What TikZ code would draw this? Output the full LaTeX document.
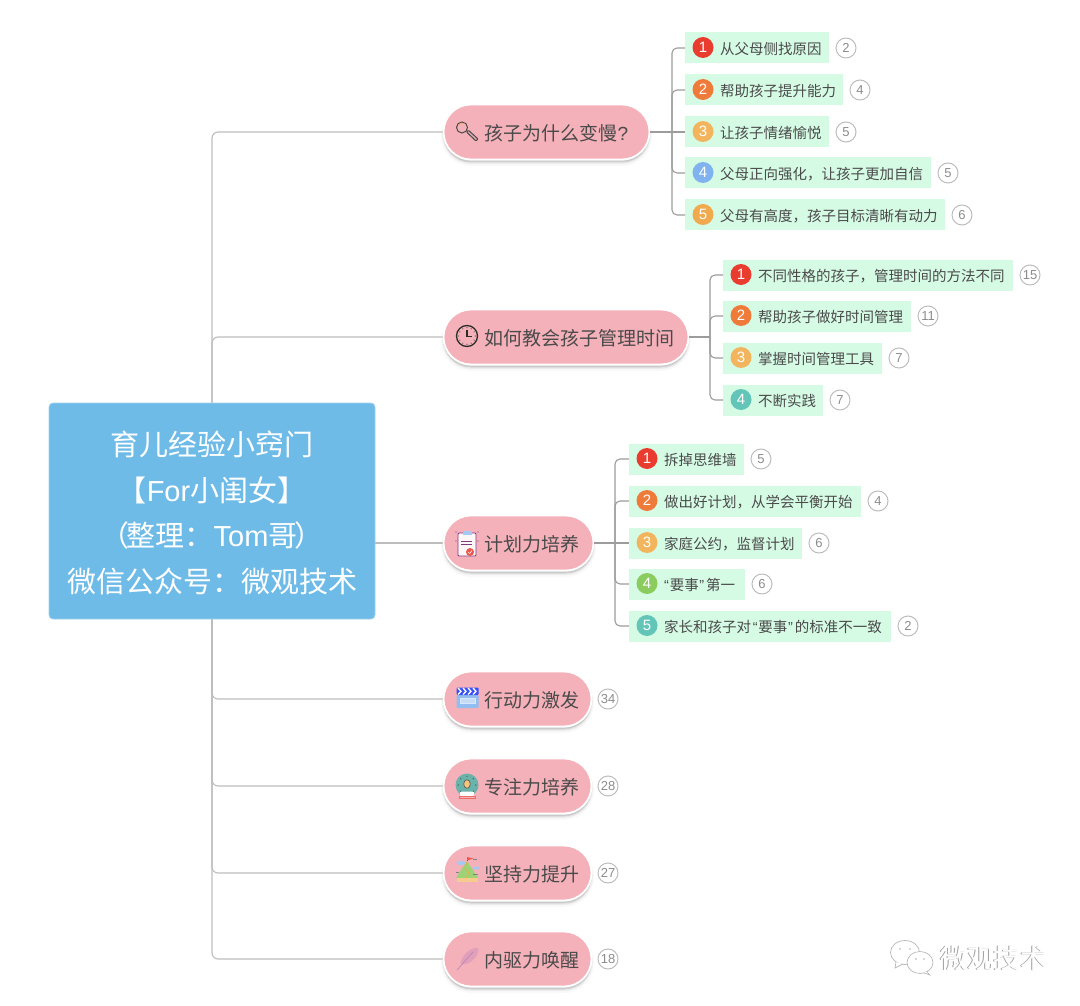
\documentclass[tikz,border=0pt]{standalone}
\usepackage{fontspec}
\setmainfont{Noto Sans CJK SC}
\newfontfamily\lat{Liberation Sans}
\usetikzlibrary{shapes.misc}
\definecolor{ink}{HTML}{4A4A4A}
\definecolor{rootc}{HTML}{6FBBE8}
\definecolor{pillc}{HTML}{F4B1BA}
\definecolor{leafc}{HTML}{D6FBE5}
\definecolor{linea}{HTML}{BDBDBD}
\definecolor{lineb}{HTML}{9C9C9C}
\definecolor{cRed}{HTML}{EA3B2F}
\definecolor{cOrange}{HTML}{EF7B3B}
\definecolor{cYellow}{HTML}{F2B55E}
\definecolor{cBlue}{HTML}{7FB2EE}
\definecolor{cAmber}{HTML}{F0A94C}
\definecolor{cTeal}{HTML}{63C4B8}
\definecolor{cGreen}{HTML}{8CCB5E}
\tikzset{
 rootbox/.style={rectangle,rounded corners=4,draw=rootc!65!white,line width=.8,fill=rootc,minimum width=326,minimum height=216,inner sep=0,align=center,text=white,font=\fontsize{29}{45.5}\selectfont},
 pill/.style={rounded rectangle,draw=white,line width=1.8,fill=pillc,minimum height=55,inner sep=0,
   preaction={draw=black,line width=5,fill=black,opacity=.025,transform canvas={yshift=-4}},
   preaction={draw=black,line width=3,fill=black,opacity=.04,transform canvas={yshift=-3}},
   preaction={draw=black,line width=1.5,fill=black,opacity=.06,transform canvas={yshift=-2}}},
 pilltext/.style={anchor=west,inner sep=0,text=ink,font=\fontsize{19}{23}\selectfont},
 leaf/.style={anchor=west,rectangle,fill=leafc,minimum height=31,inner sep=0},
 leaftext/.style={anchor=west,inner sep=0,text=ink,font=\fontsize{14.5}{18}\selectfont},
 badge/.style={circle,minimum size=21,inner sep=0,text=white,font=\lat\fontsize{15}{18}\selectfont},
 count/.style={circle,draw=linea,line width=1,fill=white,minimum size=20,inner sep=0,text=gray!90,font=\lat\fontsize{13}{15}\selectfont},
 mainline/.style={draw=linea,line width=1.1,rounded corners=6},
 subline/.style={draw=lineb,line width=1.1,rounded corners=5},
 bubble/.style={draw=gray!55,line width=.7,fill=white},
}
% \leafitem{name}{leaf left}{leaf right}{y}{badge colour}{number}{text}{count}
\newcommand{\leafitem}[8]{%
 \pgfmathsetmacro{\lw}{#3-#2}%
 \node[leaf,minimum width=\lw] (#1) at (#2,#4) {};
 \node[badge,fill=#5] (#1b) at (#2+18,#4-.5) {#6};
 \node[leaftext] (#1t) at (#2+35,#4+1.2) {#7};
 \node[count] (#1c) at (#3+17,#4) {#8};
}
\begin{document}
\begin{tikzpicture}[x=1pt,y=-1pt]
\useasboundingbox (0,0) rectangle (1080,1006);
\fill[white] (0,0) rectangle (1080,1006);

% named positions
\node[rootbox] (root) at (212,511) {};
\node[inner sep=0,align=center,text=white,font=\fontsize{29}{45.5}\selectfont] (roott) at (212,513)
  {育儿经验小窍门\\【{\lat For}小闺女】\\（\kern-.1em整理：{\lat Tom}哥\kern-.1em）\\微信公众号：微观技术};
\coordinate (p1w) at (444,132);
\coordinate (p2w) at (444,337);
\coordinate (p3w) at (444,543);
\coordinate (p4w) at (444,699);
\coordinate (p5w) at (444,786);
\coordinate (p6w) at (444,873);
\coordinate (p7w) at (444,959);

% root connectors
\draw[mainline] (root.north) |- (p1w);
\draw[mainline] (root.north) |- (p2w);
\draw[mainline] (root.east |- p3w) -- (p3w);
\draw[mainline] (root.south) |- (p4w);
\draw[mainline] (root.south) |- (p5w);
\draw[mainline] (root.south) |- (p6w);
\draw[mainline] (root.south) |- (p7w);

% leaves, branch 1
\leafitem{a}{685}{829}{48}{cRed}{1}{从父母侧找原因}{2}
\leafitem{b}{685}{843}{90}{cOrange}{2}{帮助孩子提升能力}{4}
\leafitem{c}{685}{829}{132}{cYellow}{3}{让孩子情绪愉悦}{5}
\leafitem{d}{685}{931}{173}{cBlue}{4}{父母正向强化，让孩子更加自信}{5}
\leafitem{e}{685}{945}{215}{cAmber}{5}{父母有高度，孩子目标清晰有动力}{6}
% branch 2
\leafitem{f}{723}{1013}{275}{cRed}{1}{不同性格的孩子，管理时间的方法不同}{15}
\leafitem{g}{723}{911}{316}{cOrange}{2}{帮助孩子做好时间管理}{11}
\leafitem{h}{723}{882}{358}{cYellow}{3}{掌握时间管理工具}{7}
\leafitem{i}{723}{823}{400}{cTeal}{4}{不断实践}{7}
% branch 3
\leafitem{j}{629}{744}{459}{cRed}{1}{拆掉思维墙}{5}
\leafitem{k}{629}{861}{501}{cOrange}{2}{做出好计划，从学会平衡开始}{4}
\leafitem{l}{629}{802}{543}{cYellow}{3}{家庭公约，监督计划}{6}
\leafitem{m}{629}{745}{584}{cGreen}{4}{{\lat “}\kern.05em要事\kern.05em{\lat ”}\kern.12em第一}{6}
\leafitem{n}{629}{891}{626}{cTeal}{5}{家长和孩子对\kern.12em{\lat “}\kern.05em要事\kern.05em{\lat ”}\kern.12em的标准不一致}{2}

% topic pills
\node[pill,minimum width=206] (p1) at (546.5,132) {};
\node[pill,minimum width=245] (p2) at (566,337) {};
\node[pill,minimum width=150] (p3) at (518.5,543) {};
\node[pill,minimum width=148] (p4) at (517.5,699) {};
\node[pill,minimum width=148] (p5) at (517.5,786) {};
\node[pill,minimum width=148] (p6) at (517.5,873) {};
\node[pill,minimum width=148] (p7) at (517.5,959) {};
\node[pilltext] (p1t) at (484.5,133) {孩子为什么变慢{\lat ?}};
\node[pilltext] (p2t) at (484.5,338) {如何教会孩子管理时间};
\node[pilltext] (p3t) at (484.5,544) {计划力培养};
\node[pilltext] (p4t) at (484.5,700) {行动力激发};
\node[pilltext] (p5t) at (484.5,787) {专注力培养};
\node[pilltext] (p6t) at (484.5,874) {坚持力提升};
\node[pilltext] (p7t) at (484.5,960) {内驱力唤醒};
\node[count] (p4c) at (608,699) {34};
\node[count] (p5c) at (608,786) {28};
\node[count] (p6c) at (608,873) {27};
\node[count] (p7c) at (608,959) {18};

% branch connectors
\coordinate (t1) at (672,132);
\coordinate (t2) at (710,337);
\coordinate (t3) at (615,543);
\draw[subline] (p1.east) -- (c.west);
\draw[subline] (t1) |- (a.west);
\draw[subline] (t1) |- (b.west);
\draw[subline] (t1) |- (d.west);
\draw[subline] (t1) |- (e.west);
\draw[subline] (p2.east) -- (t2);
\draw[subline] (t2) |- (f.west);
\draw[subline] (t2) |- (g.west);
\draw[subline] (t2) |- (h.west);
\draw[subline] (t2) |- (i.west);
\draw[subline] (p3.east) -- (l.west);
\draw[subline] (t3) |- (j.west);
\draw[subline] (t3) |- (k.west);
\draw[subline] (t3) |- (m.west);
\draw[subline] (t3) |- (n.west);

% icons
% magnifier
\draw[ink,line width=1] (462,127.5) circle (5.5);
\draw[cOrange!70,line width=.8] (458.5,125) arc (215:300:4.5);
\draw[ink,line width=1,fill=pillc!80!gray,rounded corners=.8] (466.5,132) -- (468.5,130.3) -- (478,139) -- (476,141) -- cycle;
% clock
\draw[ink!60!black,line width=1.3] (467,336) circle (10.5);
\draw[ink!60!black,line width=1.2] (467,329.5) -- (467,336.5) -- (472,336.5);
\foreach \a in {0,30,...,330}{\fill[ink] (467,336)++(\a:8.3) circle (.6);}
% clipboard
\draw[rounded corners=1,fill=white!90!pillc,draw=violet!55!gray,line width=.9] (458,533) rectangle (476,556);
\fill[cBlue!70] (463,530.5) rectangle (472,535);
\draw[violet!55!gray,line width=.7] (461,541)--(472,541) (461,544.5)--(472,544.5);
\fill[cRed!85] (470,552) circle (4);
\draw[white,line width=.5] (468,552) -- (469.8,553.5) -- (472,550.5);
\foreach \q in {(456,532),(478,532),(456,541),(478,541)}{\fill[violet!55!gray] \q circle (.6);}
% clapper
\fill[rounded corners=1,cBlue!85] (456.5,695) rectangle (478.5,708);
\draw[white!70!cBlue,line width=.5,fill=cBlue!45] (460,698) rectangle (475,703);
\fill[rounded corners=1,blue!55!cBlue] (456.5,687.5) rectangle (478.5,695);
\foreach \x in {458,463,468,473}{\draw[white,line width=1.3] (\x,688) -- (\x+3,691.3) -- (\x,694.5);}
% focus icon
\fill[cTeal!75!gray] (467,785) circle (11.5);
\foreach \a in {0,45,...,315}{\fill[ink] (467,785)++(\a:8.8) circle (.7);}
\fill[cYellow!80!white] (467,784) ellipse (3.3 and 4.3);
\draw[ink,line width=.5] (467,784) ellipse (3.3 and 4.3);
\fill[rounded corners=1,white] (460,791.5) rectangle (474,796);
\draw[cRed!75,line width=.8] (459,796.3) rectangle (475,798.8);
% mountain
\fill[cGreen!85] (456,878) -- (461,870) -- (467,861) -- (478,878) -- cycle;
\fill[cYellow!70] (456.5,878) rectangle (478,881.5);
\draw[cAmber,line width=.6] (467,862) -- (465,868) -- (469,873) -- (466,878);
\draw[ink,line width=.6] (467,861) -- (467,857);
\fill[cRed!85] (467,857) -- (473.5,858.5) -- (467,860.5) -- cycle;
\fill[cBlue!70] (461,863) ellipse (4.5 and 2) (476,868) ellipse (3.5 and 1.5);
\draw[gray,line width=.4] (473,859)--(477,859) (473,874)--(478,874) (456,872)--(459,872);
% feather
\fill[pillc!80!violet!85!white] (478.5,948) .. controls (471,947) and (462,954) .. (460.5,964) .. controls (469,966) and (479,957) .. (478.5,948) -- cycle;
\draw[violet!45!white!80!gray,line width=.7] (457,970) -- (473,952);

% watermark
\draw[bubble] (905,952.5) ellipse (14.5 and 12);
\draw[bubble] (896,962) -- (895,968) -- (903,964);
\draw[bubble] (920,962.5) ellipse (13 and 11);
\draw[bubble] (926,971) -- (930,975) -- (924,973);
\foreach \q in {(900,949),(910,949),(916,959),(924,959)}{\fill[gray!60] \q circle (.8);}
\node[anchor=west,inner sep=0,text=gray!75,font=\fontsize{26.5}{30}\selectfont] (wm1) at (939.5,958.5) {微观技术};
\node[anchor=west,inner sep=0,text=white,font=\fontsize{26.5}{30}\selectfont] (wm2) at (940.3,958) {微观技术};
\end{tikzpicture}
\end{document}
